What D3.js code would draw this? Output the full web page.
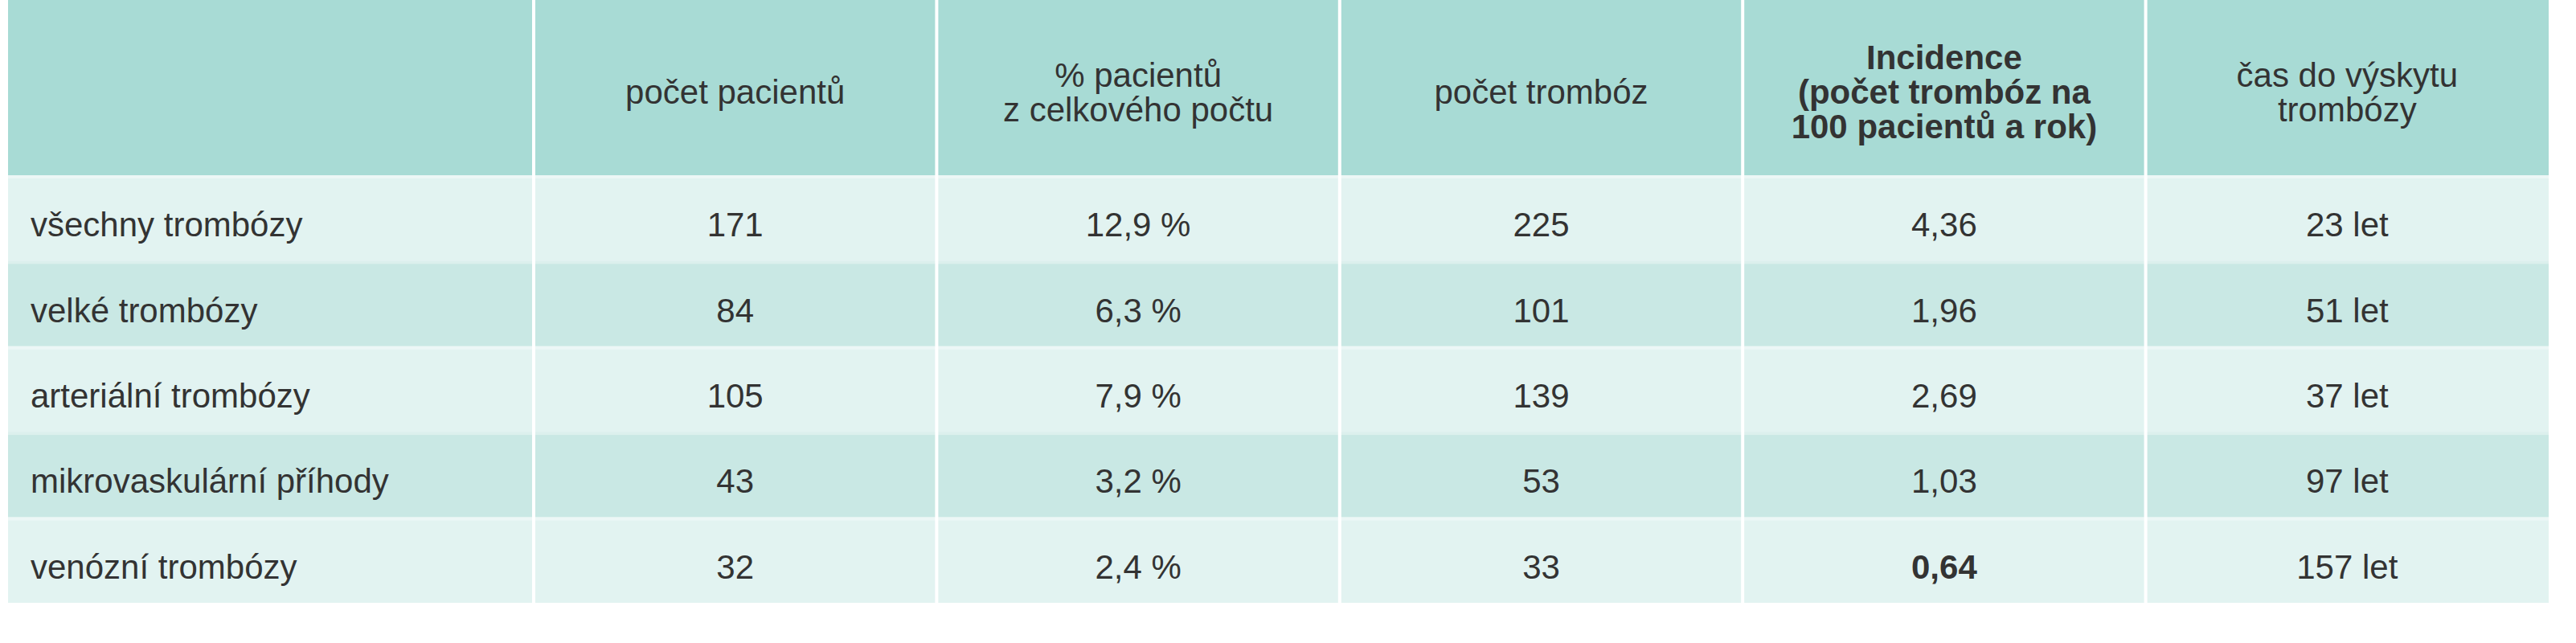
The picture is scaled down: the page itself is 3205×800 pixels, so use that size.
<!DOCTYPE html>
<html><head><meta charset="utf-8">
<script src="https://cdn.jsdelivr.net/npm/d3@7"></script>
<style>body{margin:0;background:#fff}</style></head>
<body><svg id="c" width="3205" height="800"></svg>
<script>
const headers = ["", "počet pacientů", "% pacientů\nz celkového počtu", "počet trombóz", "Incidence\n(počet trombóz na\n100 pacientů a rok)", "čas do výskytu\ntrombózy"];
const categories = ["všechny trombózy","velké trombózy","arteriální trombózy","mikrovaskulární příhody","venózní trombózy"];
const patients = ["171","84","105","43","32"];
const percent = ["12,9 %","6,3 %","7,9 %","3,2 %","2,4 %"];
const thromboses = ["225","101","139","53","33"];
const incidence = ["4,36","1,96","2,69","1,03","0,64"];
const timeTo = ["23 let","51 let","37 let","97 let","157 let"];

const svg = d3.select("#c");
const font = "'Liberation Sans','Open Sans',sans-serif";
const fs = 42;
const x0 = 10, colW0 = 654, colW = 501.4, right = 3171;
const colEdges = [x0, x0+colW0]; for (let i=1;i<6;i++) colEdges.push(x0+colW0+i*colW);
const headerH = 218;
const y = d3.scaleBand().domain(d3.range(categories.length)).range([headerH, 750]);
const cols = [categories, patients, percent, thromboses, incidence, timeTo];

svg.append("rect").attr("x",x0).attr("y",0).attr("width",right-x0).attr("height",headerH).attr("fill","#a8dbd5");
categories.forEach((c,i)=>{
  svg.append("rect").attr("x",x0).attr("y",y(i)).attr("width",right-x0).attr("height",y.bandwidth())
    .attr("fill", i%2===0 ? "#e2f3f1" : "#c9e8e4");
  svg.append("rect").attr("x",x0).attr("y",y(i)).attr("width",right-x0).attr("height",4).attr("fill","#ffffff").attr("opacity",0.35);
});
colEdges.slice(1,-1).forEach(e=>svg.append("rect").attr("x",e-2).attr("y",0).attr("width",4).attr("height",750).attr("fill","#fff"));

headers.forEach((h,j)=>{
  if(!h) return;
  const lines = h.split("\n");
  const cx = (colEdges[j]+colEdges[j+1])/2;
  const lh = 43;
  const t = svg.append("text").attr("text-anchor","middle").attr("font-family",font).attr("font-size",fs)
    .attr("fill","#333").attr("font-weight", j===4 ? "bold" : "normal");
  lines.forEach((l,k)=>t.append("tspan").attr("x",cx).attr("y",headerH/2 + (k-(lines.length-1)/2)*lh + 20).text(l));
});
cols.forEach((col,j)=>{
  col.forEach((v,i)=>{
    const cy = y(i)+y.bandwidth()/2+23;
    svg.append("text").attr("x", j===0 ? x0+28 : (colEdges[j]+colEdges[j+1])/2).attr("y",cy)
      .attr("text-anchor", j===0 ? "start" : "middle").attr("font-family",font).attr("font-size",fs)
      .attr("fill","#333").attr("font-weight", (j===4 && i===4) ? "bold" : "normal").text(v);
  });
});
</script></body></html>
